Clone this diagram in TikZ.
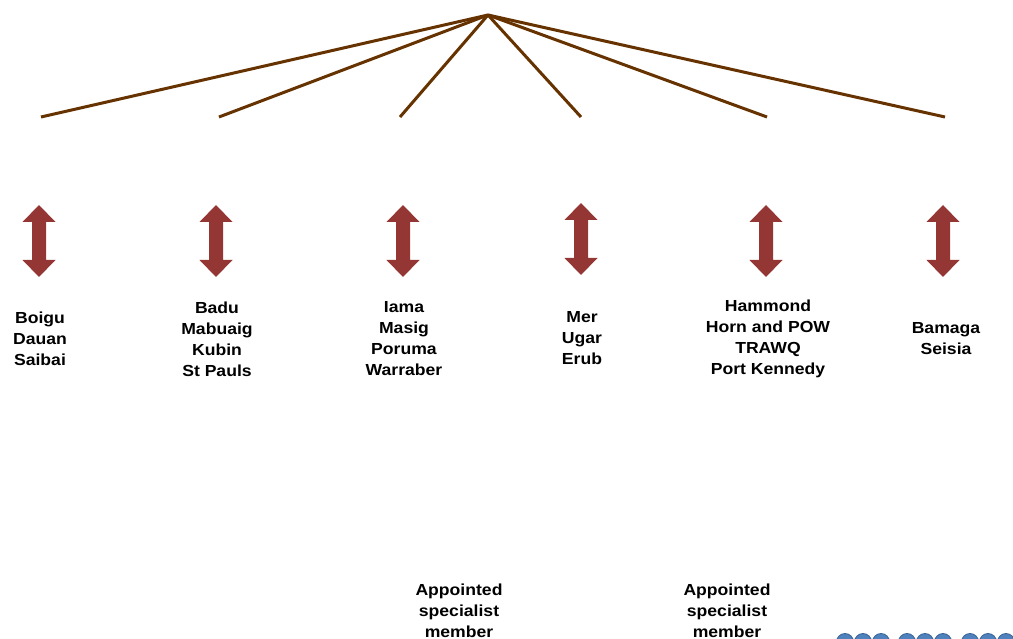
\documentclass[tikz,border=0pt]{standalone}
\usepackage{fontspec}
\setmainfont{Liberation Sans}
\newfontfamily\lblfont[FakeStretch=1.1]{Liberation Sans}
\definecolor{linebrown}{HTML}{663300}
\definecolor{arrowred}{HTML}{943634}
\definecolor{dotblue}{HTML}{4F81BD}
\definecolor{dotedge}{HTML}{3A6496}
\tikzset{
  branch/.style={draw=linebrown, line width=3pt},
  lbl/.style={align=center, inner sep=0pt, font=\lblfont\bfseries\fontsize{16}{21}\selectfont},
  dot/.style={circle, fill=dotblue, draw=dotedge, line width=0.8pt, minimum size=17pt, inner sep=0pt},
  pics/darrow/.style={code={
    \fill[arrowred] (0,0) -- (16.5,17) -- (7,17) -- (7,55) -- (16.5,55) -- (0,72)
      -- (-16.5,55) -- (-7,55) -- (-7,17) -- (-16.5,17) -- cycle;
  }}
}
\begin{document}
\begin{tikzpicture}[x=1pt,y=-1pt]
\useasboundingbox (0,0) rectangle (1013,639);
\coordinate (apex) at (488,15);
\coordinate (e1) at (41,117);
\coordinate (e2) at (219,117);
\coordinate (e3) at (400,117);
\coordinate (e4) at (581,117);
\coordinate (e5) at (767,117);
\coordinate (e6) at (945,117);
\foreach \e in {e1,e2,e3,e4,e5,e6} \draw[branch] (apex) -- (\e);

\pic at (39,205) {darrow};
\pic at (216,205) {darrow};
\pic at (403,205) {darrow};
\pic at (581,203) {darrow};
\pic at (766,205) {darrow};
\pic at (943,205) {darrow};

\node[lbl] (g1) at (40,339) {Boigu\\Dauan\\Saibai};
\node[lbl] (g2) at (217,339) {Badu\\Mabuaig\\Kubin\\St Pauls};
\node[lbl] (g3) at (404,339) {Iama\\Masig\\Poruma\\Warraber};
\node[lbl] (g4) at (582,338) {Mer\\Ugar\\Erub};
\node[lbl] (g5) at (768,339) {Hammond\\Horn and POW\\TRAWQ\\Port Kennedy};
\node[lbl] (g6) at (946,339) {Bamaga\\Seisia};
\node[lbl] (s1) at (459,611) {Appointed\\specialist\\member};
\node[lbl] (s2) at (727,611) {Appointed\\specialist\\member};

\foreach \x [count=\i] in {845,863,881,907,925,943,970,988,1006}
  \node[dot] (d\i) at (\x,642) {};
\end{tikzpicture}
\end{document}
